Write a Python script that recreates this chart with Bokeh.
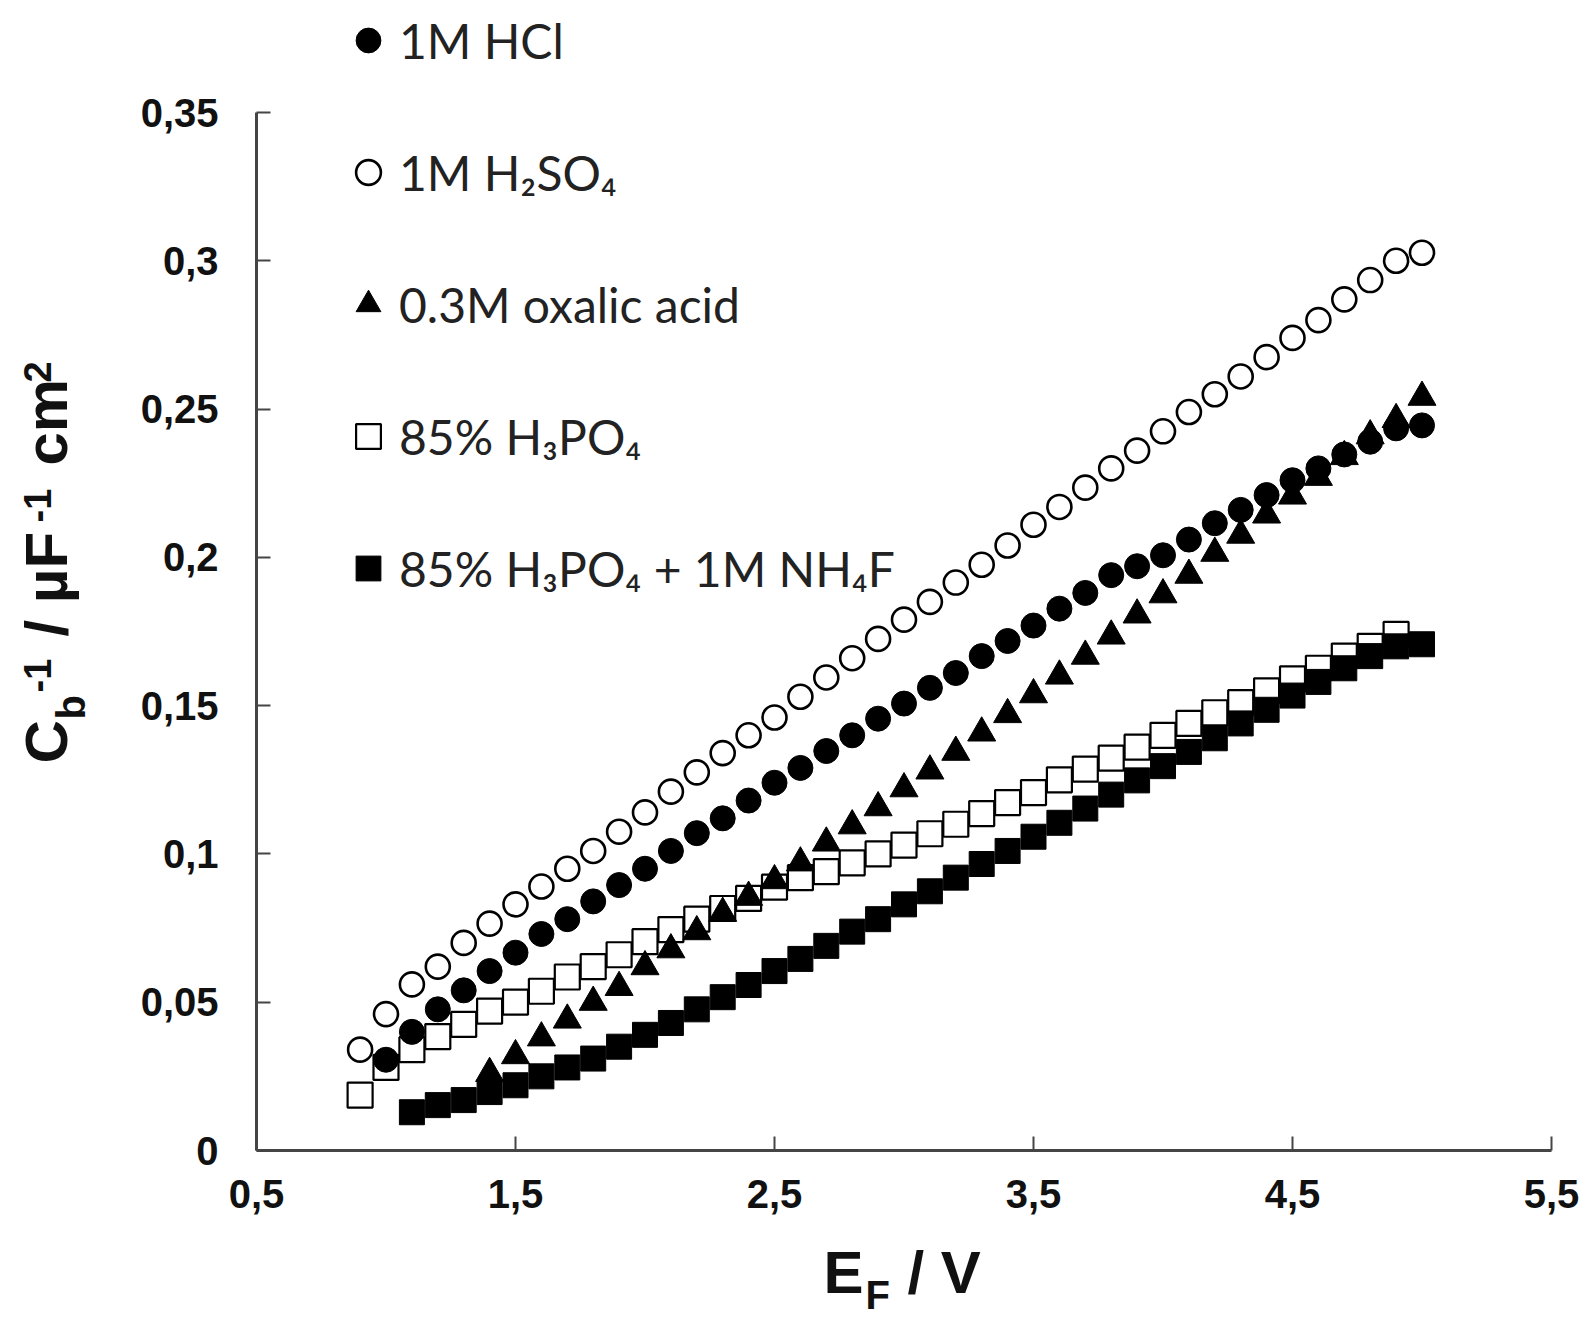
import math
from bokeh.plotting import figure
from bokeh.layouts import row, column
from bokeh.models import (Range1d, FixedTicker, CustomJSTickFormatter, Label,
                          Legend, LegendItem)
from bokeh.embed import file_html
from bokeh.resources import INLINE

# ---------------- data ----------------
x_h2so4 = [0.9, 1.0, 1.1, 1.2, 1.3, 1.4, 1.5, 1.6, 1.7, 1.8, 1.9, 2.0, 2.1, 2.2,
           2.3, 2.4, 2.5, 2.6, 2.7, 2.8, 2.9, 3.0, 3.1, 3.2, 3.3, 3.4, 3.5, 3.6,
           3.7, 3.8, 3.9, 4.0, 4.1, 4.2, 4.3, 4.4, 4.5, 4.6, 4.7, 4.8, 4.9, 5.0]
y_h2so4 = [0.034, 0.046, 0.056, 0.062, 0.070, 0.0765, 0.083, 0.089, 0.095, 0.101,
           0.1075, 0.114, 0.121, 0.1275, 0.134, 0.140, 0.146, 0.153, 0.1595, 0.166,
           0.1725, 0.179, 0.185, 0.1915, 0.1975, 0.204, 0.211, 0.217, 0.2235, 0.230,
           0.236, 0.2425, 0.249, 0.255, 0.261, 0.2675, 0.274, 0.280, 0.287, 0.2935,
           0.300, 0.3027]

x_hcl = [1.0, 1.1, 1.2, 1.3, 1.4, 1.5, 1.6, 1.7, 1.8, 1.9, 2.0, 2.1, 2.2, 2.3,
         2.4, 2.5, 2.6, 2.7, 2.8, 2.9, 3.0, 3.1, 3.2, 3.3, 3.4, 3.5, 3.6, 3.7,
         3.8, 3.9, 4.0, 4.1, 4.2, 4.3, 4.4, 4.5, 4.6, 4.7, 4.8, 4.9, 5.0]
y_hcl = [0.0306, 0.040, 0.0476, 0.054, 0.0605, 0.0667, 0.073, 0.078, 0.084, 0.0895,
         0.095, 0.101, 0.107, 0.112, 0.118, 0.124, 0.129, 0.1347, 0.140, 0.1456,
         0.1507, 0.156, 0.161, 0.1667, 0.1718, 0.177, 0.1827, 0.188, 0.194, 0.197,
         0.2007, 0.206, 0.2115, 0.216, 0.221, 0.226, 0.230, 0.2347, 0.239, 0.2435,
         0.2445]

x_oxalic = [1.4, 1.5, 1.6, 1.7, 1.8, 1.9, 2.0, 2.1, 2.2, 2.3, 2.4, 2.5, 2.6,
            2.7, 2.8, 2.9, 3.0, 3.1, 3.2, 3.3, 3.4, 3.5, 3.6, 3.7, 3.8, 3.9,
            4.0, 4.1, 4.2, 4.3, 4.4, 4.5, 4.6, 4.7, 4.8, 4.9, 5.0]
y_oxalic = [0.026, 0.032, 0.038, 0.044, 0.050, 0.055, 0.062, 0.0677, 0.0738, 0.080,
            0.0854, 0.091, 0.097, 0.1037, 0.1095, 0.1156, 0.122, 0.128, 0.1343,
            0.1408, 0.147, 0.1537, 0.160, 0.1667, 0.1735, 0.1806, 0.1874, 0.194,
            0.2014, 0.2075, 0.2143, 0.2207, 0.227, 0.234, 0.241, 0.2465, 0.254]

x_h3po4 = [0.9, 1.0, 1.1, 1.2, 1.3, 1.4, 1.5, 1.6, 1.7, 1.8, 1.9, 2.0, 2.1, 2.2,
           2.3, 2.4, 2.5, 2.6, 2.7, 2.8, 2.9, 3.0, 3.1, 3.2, 3.3, 3.4, 3.5, 3.6,
           3.7, 3.8, 3.9, 4.0, 4.1, 4.2, 4.3, 4.4, 4.5, 4.6, 4.7, 4.8, 4.9]
y_h3po4 = [0.0187, 0.028, 0.034, 0.0384, 0.0425, 0.047, 0.050, 0.0537, 0.0585, 0.062,
           0.066, 0.0704, 0.0745, 0.078, 0.0816, 0.085, 0.0888, 0.092, 0.094, 0.097,
           0.100, 0.103, 0.1068, 0.110, 0.1136, 0.1173, 0.1207, 0.125, 0.1286, 0.1323,
           0.136, 0.140, 0.144, 0.1476, 0.151, 0.155, 0.159, 0.1626, 0.1667, 0.170,
           0.174]

x_nh4f = [1.1, 1.2, 1.3, 1.4, 1.5, 1.6, 1.7, 1.8, 1.9, 2.0, 2.1, 2.2, 2.3, 2.4,
          2.5, 2.6, 2.7, 2.8, 2.9, 3.0, 3.1, 3.2, 3.3, 3.4, 3.5, 3.6, 3.7, 3.8,
          3.9, 4.0, 4.1, 4.2, 4.3, 4.4, 4.5, 4.6, 4.7, 4.8, 4.9, 5.0]
y_nh4f = [0.0129, 0.0153, 0.017, 0.0197, 0.022, 0.025, 0.028, 0.031, 0.035, 0.039,
          0.043, 0.0476, 0.0517, 0.0558, 0.0605, 0.0646, 0.069, 0.0738, 0.078, 0.083,
          0.0874, 0.092, 0.0966, 0.101, 0.1058, 0.1105, 0.1153, 0.120, 0.1248, 0.1296,
          0.1344, 0.139, 0.144, 0.1486, 0.1534, 0.158, 0.1626, 0.1667, 0.170, 0.1707]

x_ticks = [0.5, 1.5, 2.5, 3.5, 4.5, 5.5]
y_ticks = [0, 0.05, 0.1, 0.15, 0.2, 0.25, 0.3, 0.35]

series_labels = ["1M HCl", "1M H\u2082SO\u2084", "0.3M oxalic acid",
                 "85% H\u2083PO\u2084", "85% H\u2083PO\u2084 + 1M NH\u2084F"]

AXIS_FONT = "Liberation Sans"
W_LEFT = 110          # strip holding the rotated y title
H_MAIN = 1232         # main figure height (x title strip below it)
TOTAL_W, TOTAL_H = 1585, 1323
BL_LEFT = 256 - W_LEFT   # left border of the main frame inside the column
BL_RIGHT = 34

# ---------------- main figure ----------------
# frame: canvas x 256..1551, y 0..1150 ; y = 0.35 sits at canvas y 112
y_top = 0.35 * 1150 / 1038
p = figure(width=TOTAL_W - W_LEFT, height=H_MAIN,
           x_range=Range1d(0.5, 5.5), y_range=Range1d(0, y_top),
           output_backend="svg", toolbar_location=None,
           min_border_left=BL_LEFT, min_border_right=BL_RIGHT,
           min_border_top=0, min_border_bottom=H_MAIN - 1150)
p.xgrid.visible = False
p.ygrid.visible = False
p.outline_line_color = None
p.background_fill_color = "white"
p.border_fill_color = "white"

fmt = "return String(Math.round(tick*100)/100).replace('.', ',');"
for ax, ticks, bnds in ((p.xaxis[0], x_ticks, (0.5, 5.5)), (p.yaxis[0], y_ticks, (0, 0.35))):
    ax.ticker = FixedTicker(ticks=ticks, minor_ticks=[])
    ax.formatter = CustomJSTickFormatter(code=fmt)
    ax.bounds = bnds
    ax.axis_line_color = "#454545"
    ax.axis_line_width = 3
    ax.major_tick_line_color = "#454545"
    ax.major_tick_line_width = 2
    ax.major_tick_in = 14
    ax.major_tick_out = 0
    ax.minor_tick_line_color = None
    ax.major_label_text_font = AXIS_FONT
    ax.major_label_text_font_style = "bold"
    ax.major_label_text_font_size = "40px"
    ax.major_label_text_color = "#111111"
p.xaxis.major_label_standoff = 29
p.yaxis.major_label_standoff = 38

# ---------------- data glyphs ----------------
r_h3po4 = p.scatter(x_h3po4, y_h3po4, marker="square", size=25,
                    fill_color="white", line_color="black", line_width=2.2)
r_oxalic = p.scatter(x_oxalic, y_oxalic, marker="triangle", size=28,
                     fill_color="black", line_color="black", line_width=1)
r_nh4f = p.scatter(x_nh4f, y_nh4f, marker="square", size=25,
                   fill_color="black", line_color="black", line_width=1)
r_h2so4 = p.scatter(x_h2so4, y_h2so4, marker="circle", size=24,
                    fill_color="white", line_color="black", line_width=2.6)
r_hcl = p.scatter(x_hcl, y_hcl, marker="circle", size=25,
                  fill_color="black", line_color="black", line_width=1)

renderers = [r_hcl, r_h2so4, r_oxalic, r_h3po4, r_nh4f]
legend = Legend(items=[LegendItem(label=l, renderers=[r]) for l, r in zip(series_labels, renderers)],
                location=(81, 551),
                glyph_width=62, glyph_height=62, label_height=62,
                spacing=70, padding=0, margin=0, label_standoff=0,
                label_text_font="Lato", label_text_font_size="48px",
                label_text_color="#222222",
                border_line_color=None, background_fill_alpha=0)
p.add_layout(legend)


# ---------------- title strips (figures without axes) ----------------
def strip(w, h, bl=0, br=0):
    f = figure(width=w, height=h, x_range=Range1d(0, 1), y_range=Range1d(0, 1),
               output_backend="svg", toolbar_location=None,
               x_axis_location=None, y_axis_location=None,
               min_border=0, min_border_left=bl, min_border_right=br,
               min_border_top=0, min_border_bottom=0)
    f.xgrid.visible = False
    f.ygrid.visible = False
    f.outline_line_color = None
    f.background_fill_color = "white"
    f.border_fill_color = "white"
    return f


K = 0.433  # measured offset of Bokeh's text anchor from the alphabetic baseline (em)


def put(f, text, sx, sy, size, angle=0.0):
    f.add_layout(Label(x=sx, y=sy, x_units="screen", y_units="screen",
                       text=text, angle=angle, text_align="left",
                       text_baseline="alphabetic", text_font=AXIS_FONT,
                       text_font_style="bold", text_font_size=f"{size}px",
                       text_color="#111111"))


# left strip: canvas (cx, cy) -> screen (cx, TOTAL_H - cy); cx = baseline
left = strip(W_LEFT, TOTAL_H)
A = math.pi / 2
for text, cx, cy, size in (("C", 72, 763, 60), ("b", 88, 719, 40), ("-1", 53, 692, 38),
                           ("/ \u00b5F", 72, 636, 60), ("-1", 53, 522, 38),
                           ("cm", 72, 465, 60), ("2", 53, 382, 38)):
    put(left, text, cx - K * size, TOTAL_H - cy, size, A)

# bottom strip: its frame starts at canvas x = 256
bottom = strip(TOTAL_W - W_LEFT, TOTAL_H - H_MAIN, BL_LEFT, BL_RIGHT)
for text, cx, cy, size in (("E", 823, 1298, 60), ("F", 865, 1312, 40), ("/ V", 907, 1298, 60)):
    put(bottom, text, cx - 256, TOTAL_H - cy + K * size, size)

layout = row(left, column(p, bottom, spacing=0), spacing=0)
open("out.html", "w").write(file_html(layout, INLINE))
